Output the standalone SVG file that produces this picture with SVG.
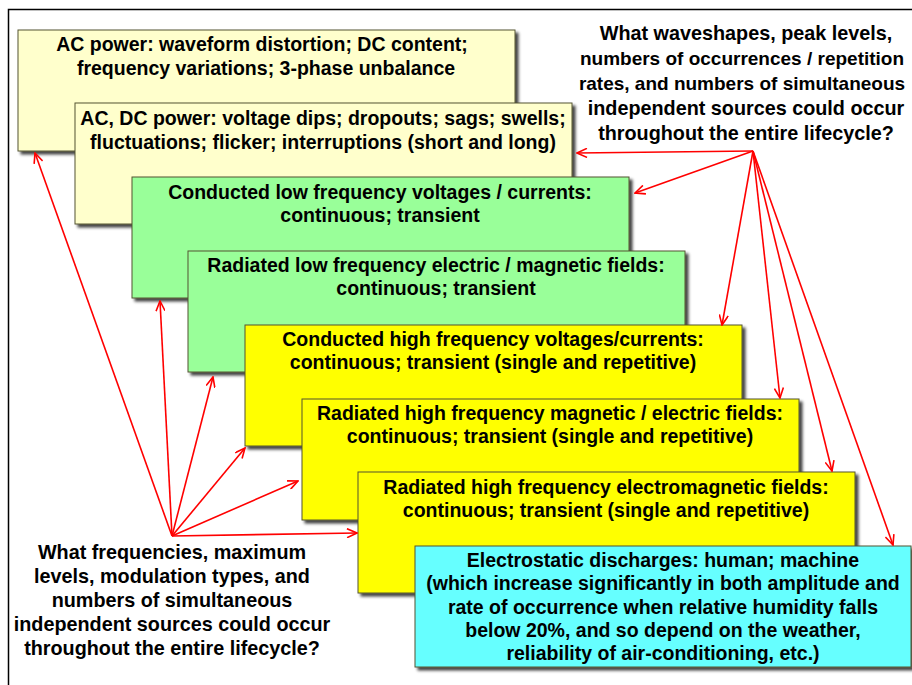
<svg xmlns="http://www.w3.org/2000/svg" width="912" height="685" viewBox="0 0 912 685">
<defs>
<filter id="sh" x="-5%" y="-5%" width="115%" height="120%">
<feDropShadow dx="3" dy="3" stdDeviation="1.5" flood-color="#000" flood-opacity="0.75"/>
</filter>
<marker id="ah" viewBox="0 0 12 10" refX="11" refY="5" markerWidth="12" markerHeight="10" markerUnits="userSpaceOnUse" orient="auto">
<path d="M1,0.5 L11,5 L1,9.5" fill="none" stroke="#ff0000" stroke-width="1.6"/>
</marker>
</defs>
<style>
.bx{stroke:#555533;stroke-width:1;filter:url(#sh)}
.ly{fill:#ffffcc}.gr{fill:#99ff99}.ye{fill:#ffff00}.cy{fill:#66ffff}
text{font-family:"Liberation Sans",Arial,sans-serif;font-weight:bold;font-size:19.5px;fill:#000;text-anchor:middle}
.q{font-size:19.8px}
.n{font-size:19px}
.c line{stroke:#ff0000;stroke-width:1.6;marker-end:url(#ah)}
</style>
<rect width="912" height="685" fill="#fff"/>
<rect x="8.5" y="9.5" width="1000" height="1000" fill="none" stroke="#000" stroke-width="1.5"/>

<g id="box1"><rect class="bx ly" x="18" y="30" width="497" height="121"/>
<text x="262" y="51">AC power: waveform distortion; DC content;</text>
<text x="266" y="75">frequency variations; 3-phase unbalance</text></g>
<g id="box2"><rect class="bx ly" x="75" y="103" width="497" height="121"/>
<text x="323" y="125">AC, DC power: voltage dips; dropouts; sags; swells;</text>
<text x="323" y="149">fluctuations; flicker; interruptions (short and long)</text></g>
<g id="box3"><rect class="bx gr" x="132" y="177" width="497" height="121"/>
<text x="380" y="199">Conducted low frequency voltages / currents:</text>
<text x="380" y="222">continuous; transient</text></g>
<g id="box4"><rect class="bx gr" x="188" y="251" width="497" height="121"/>
<text x="436" y="272">Radiated low frequency electric / magnetic fields:</text>
<text x="436" y="295">continuous; transient</text></g>
<g id="box5"><rect class="bx ye" x="245" y="325" width="497" height="121"/>
<text x="493" y="346">Conducted high frequency voltages/currents:</text>
<text x="493" y="369">continuous; transient (single and repetitive)</text></g>
<g id="box6"><rect class="bx ye" x="302" y="399" width="497" height="121"/>
<text x="550" y="420">Radiated high frequency magnetic / electric fields:</text>
<text x="550" y="443">continuous; transient (single and repetitive)</text></g>
<g id="box7"><rect class="bx ye" x="358" y="472" width="497" height="121"/>
<text x="606" y="494">Radiated high frequency electromagnetic fields:</text>
<text x="606" y="517">continuous; transient (single and repetitive)</text></g>
<g id="box8"><rect class="bx cy" x="415" y="546" width="496" height="121"/>
<text x="663" y="567">Electrostatic discharges: human; machine</text>
<text x="663" y="590">(which increase significantly in both amplitude and</text>
<text x="663" y="614">rate of occurrence when relative humidity falls</text>
<text x="663" y="637">below 20%, and so depend on the weather,</text>
<text x="663" y="660">reliability of air-conditioning, etc.)</text></g>

<g id="q1">
<text class="q" x="746" y="40">What waveshapes, peak levels,</text>
<text class="q n" x="742" y="65">numbers of occurrences / repetition</text>
<text class="q n" x="742" y="90">rates, and numbers of simultaneous</text>
<text class="q" x="746" y="115">independent sources could occur</text>
<text class="q" x="746" y="140">throughout the entire lifecycle?</text>
</g>
<g id="q2">
<text class="q" x="172" y="559">What frequencies, maximum</text>
<text class="q" x="172" y="583">levels, modulation types, and</text>
<text class="q" x="172" y="607">numbers of simultaneous</text>
<text class="q" x="172" y="631">independent sources could occur</text>
<text class="q" x="172" y="655">throughout the entire lifecycle?</text>
</g>

<g id="connectors" class="c">
<line x1="753" y1="151" x2="577" y2="153"/>
<line x1="753" y1="151" x2="635" y2="193"/>
<line x1="753" y1="151" x2="722" y2="325"/>
<line x1="753" y1="151" x2="780" y2="398"/>
<line x1="753" y1="151" x2="832" y2="471"/>
<line x1="753" y1="151" x2="893" y2="545"/>
<line x1="172" y1="536" x2="35" y2="153"/>
<line x1="172" y1="536" x2="160" y2="301"/>
<line x1="172" y1="536" x2="213" y2="377"/>
<line x1="172" y1="536" x2="245" y2="448"/>
<line x1="172" y1="536" x2="298" y2="481"/>
<line x1="172" y1="536" x2="357" y2="533"/>
</g>
</svg>
